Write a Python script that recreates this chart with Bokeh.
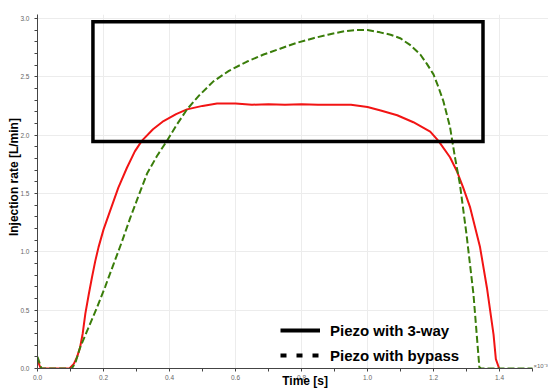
import math
from bokeh.plotting import figure
from bokeh.models import Range1d, FixedTicker, Label, Legend, LegendItem
from bokeh.embed import file_html
from bokeh.resources import INLINE

# ---- data (time ×10^-3 s, injection rate L/min) ----
red_t = [0.000, 0.010, 0.050, 0.097, 0.110, 0.120, 0.129, 0.137, 0.145, 0.155,
         0.165, 0.175, 0.185, 0.200, 0.220, 0.245, 0.271, 0.295, 0.316, 0.350,
         0.382, 0.420, 0.453, 0.500, 0.544, 0.600, 0.650, 0.700, 0.750, 0.800,
         0.850, 0.900, 0.950, 1.000, 1.040, 1.090, 1.139, 1.190, 1.215, 1.250,
         1.271, 1.290, 1.311, 1.341, 1.362, 1.382, 1.389, 1.399]
red_v = [0.07, 0.00, 0.00, 0.00, 0.04, 0.10, 0.18, 0.30, 0.47, 0.63,
         0.78, 0.92, 1.04, 1.19, 1.35, 1.55, 1.72, 1.86, 1.95, 2.05,
         2.12, 2.18, 2.22, 2.25, 2.27, 2.27, 2.26, 2.265, 2.26, 2.265,
         2.26, 2.26, 2.26, 2.24, 2.21, 2.17, 2.11, 2.03, 1.95, 1.81,
         1.69, 1.55, 1.38, 1.04, 0.69, 0.29, 0.08, 0.00]

green_t = [0.000, 0.012, 0.050, 0.104, 0.115, 0.129, 0.150, 0.180, 0.205, 0.230,
           0.255, 0.281, 0.305, 0.332, 0.362, 0.392, 0.420, 0.453, 0.490, 0.533,
           0.580, 0.635, 0.685, 0.735, 0.785, 0.836, 0.880, 0.930, 0.968, 1.000,
           1.038, 1.070, 1.099, 1.130, 1.160, 1.180, 1.200, 1.215, 1.230, 1.240,
           1.250, 1.265, 1.280, 1.300, 1.321, 1.339, 1.345, 1.500]
green_v = [0.10, 0.00, 0.00, 0.00, 0.05, 0.18, 0.32, 0.52, 0.70, 0.89,
           1.08, 1.29, 1.47, 1.67, 1.82, 1.95, 2.08, 2.22, 2.34, 2.46,
           2.55, 2.63, 2.69, 2.74, 2.79, 2.83, 2.86, 2.89, 2.90, 2.90,
           2.88, 2.86, 2.83, 2.77, 2.69, 2.61, 2.52, 2.41, 2.29, 2.18,
           2.07, 1.81, 1.58, 1.15, 0.64, 0.01, 0.00, 0.00]

box_left = [0.168]
box_right = [1.350]
box_bottom = [1.945]
box_top = [2.970]

series_names = ["Piezo with 3-way", "Piezo with bypass"]

x_ticks = [0.0, 0.2, 0.4, 0.6, 0.8, 1.0, 1.2, 1.4]
x_tick_labels = ["0.0", "0.2", "0.4", "0.6", "0.8", "1.0", "1.2", "1.4"]
x_minor = [0.1, 0.3, 0.5, 0.7, 0.9, 1.1, 1.3, 1.5]
y_ticks = [0.0, 0.5, 1.0, 1.5, 2.0, 2.5, 3.0]
y_tick_labels = ["0.0", "0.5", "1.0", "1.5", "2.0", "2.5", "3.0"]
y_minor = [0.1, 0.2, 0.3, 0.4, 0.6, 0.7, 0.8, 0.9, 1.1, 1.2, 1.3, 1.4,
           1.6, 1.7, 1.8, 1.9, 2.1, 2.2, 2.3, 2.4, 2.6, 2.7, 2.8, 2.9]

x_label = "Time [s]"
y_label = "Injection rate [L/min]"
x_scale_note = "×10⁻³"

# ---- figure ----
p = figure(width=548, height=390, output_backend="svg", toolbar_location=None,
           x_range=Range1d(0, 1.5485), y_range=Range1d(0, 3.033),
           min_border_left=37, min_border_right=0, min_border_top=0,
           min_border_bottom=22)
p.outline_line_color = None
p.background_fill_color = "white"

for ax, ticks, minor, labels in ((p.xaxis[0], x_ticks, x_minor, x_tick_labels),
                                 (p.yaxis[0], y_ticks, y_minor, y_tick_labels)):
    ax.ticker = FixedTicker(ticks=ticks, minor_ticks=minor)
    ax.major_label_overrides = dict(zip(ticks, labels))
    ax.axis_line_color = "#444444"
    ax.major_tick_line_color = "#444444"
    ax.minor_tick_line_color = "#444444"
    ax.major_tick_out = 3
    ax.major_tick_in = 0
    ax.minor_tick_out = 3
    ax.minor_tick_in = 0
    ax.major_label_text_font = "Liberation Sans"
    ax.major_label_text_font_size = "6.5px"
    ax.major_label_text_color = "#666666"

xa = p.xaxis[0]
xa.bounds = (0, 1.5)
xa.major_label_standoff = 3

ya = p.yaxis[0]
ya.bounds = (0, 3.1)
ya.major_label_standoff = 5

p.xgrid.ticker = FixedTicker(ticks=x_ticks)
p.ygrid.ticker = FixedTicker(ticks=y_ticks)
p.xgrid.grid_line_color = "#ececec"
p.ygrid.grid_line_color = "#ececec"

p.line(red_t, red_v, line_color="#f21414", line_width=2)
p.line(green_t, green_v, line_color="#3a7d0a", line_width=2, line_dash="7 3")
p.quad(left=box_left, right=box_right, bottom=box_bottom, top=box_top,
       fill_color=None, line_color="black", line_width=3.5, line_join="miter")

# legend with black sample lines (renderers carry no visible data)
r1 = p.line(x=[math.nan], y=[math.nan], line_color="black", line_width=4)
r2 = p.line(x=[math.nan], y=[math.nan], line_color="black", line_width=4,
            line_dash="6 10")
legend = Legend(items=[LegendItem(label=series_names[0], renderers=[r1]),
                       LegendItem(label=series_names[1], renderers=[r2])],
                location=(243, 3), background_fill_alpha=0, border_line_color=None,
                padding=0, margin=0, spacing=5, glyph_width=40, glyph_height=20,
                label_height=20, label_standoff=10,
                label_text_font="Liberation Sans", label_text_font_style="bold",
                label_text_font_size="15px", label_text_color="black")
p.add_layout(legend)

p.add_layout(Label(x=1.503, y=0.025, text=x_scale_note, text_align="left",
                   text_baseline="middle", text_font="Liberation Sans",
                   text_font_size="6px", text_color="#666666"))

# axis titles placed as labels in side panels (so they are not clipped to the frame)
p.add_layout(Label(x=0.811, y=-0.105, text=x_label, text_align="center",
                   text_baseline="middle", text_font="Liberation Sans",
                   text_font_style="bold", text_font_size="12px",
                   text_color="black"), "above")
p.add_layout(Label(x=-0.070, y=1.64, text=y_label, angle=math.pi / 2,
                   text_align="center", text_baseline="middle",
                   text_font="Liberation Sans", text_font_style="bold",
                   text_font_size="12px", text_color="black"), "left")

open("out.html", "w").write(file_html(p, INLINE))
